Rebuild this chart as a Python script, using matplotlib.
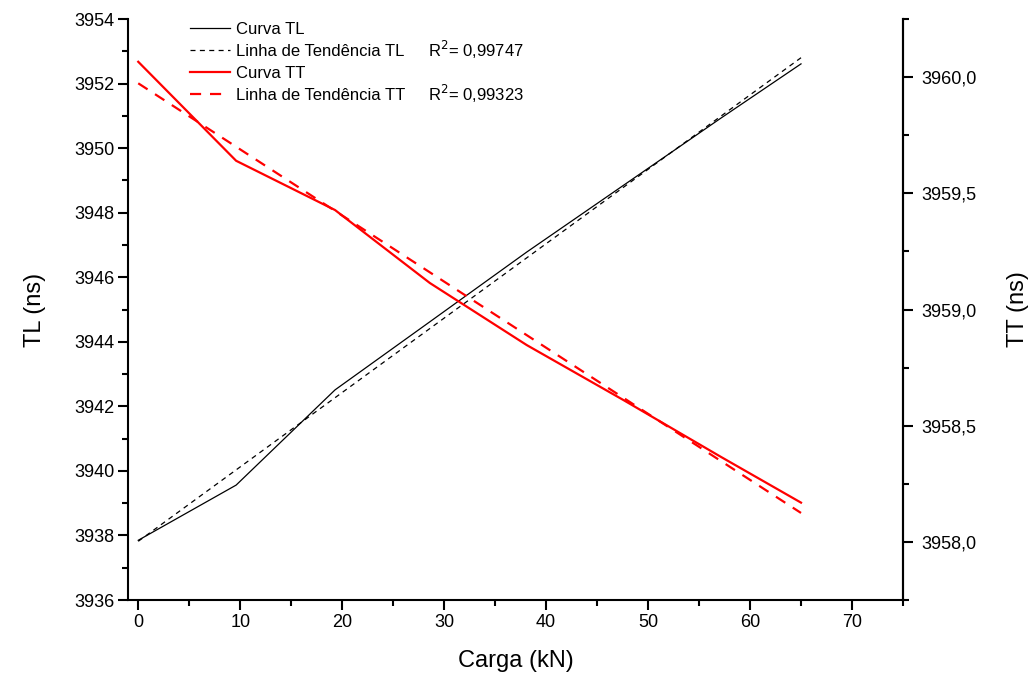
import numpy as np
import matplotlib
matplotlib.use("Agg")
import matplotlib.pyplot as plt
from matplotlib.ticker import MultipleLocator, FuncFormatter
from matplotlib.lines import Line2D

plt.rcParams['font.family'] = ['Liberation Sans', 'DejaVu Sans']

# carga aplicada (kN) e tempos de percurso (ns)
carga = [0, 9.6, 19.3, 28.6, 38.1, 47.6, 57.1, 65.0]
tl = [3937.85, 3939.56, 3942.51, 3944.62, 3946.78, 3948.85, 3950.92, 3952.61]
tt = [3960.066, 3959.64, 3959.428, 3959.114, 3958.847, 3958.61, 3958.367, 3958.169]
r2_tl = "0,99747"
r2_tt = "0,99323"

# linhas de tendencia (ajuste linear)
x_fit = np.array([carga[0], carga[-1]])
tl_fit = np.polyval(np.polyfit(carga, tl, 1), x_fit)
tt_fit = np.polyval(np.polyfit(carga, tt, 1), x_fit)

fig = plt.figure(figsize=(10.36, 6.84), dpi=100)
ax = fig.add_axes([0.1236, 0.1228, 0.748, 0.8494])
ax2 = ax.twinx()

ax.plot(carga, tl, color='black', lw=0.9)
ax.plot(x_fit, tl_fit, color='black', lw=0.9, dashes=(4, 3.5))
ax2.plot(carga, tt, color='red', lw=1.6)
ax2.plot(x_fit, tt_fit, color='red', lw=1.6, dashes=(5, 4))

ax.set_xlim(-1, 75)
ax.set_ylim(3936, 3954)
ax2.set_ylim(3957.75, 3960.25)

ax.xaxis.set_minor_locator(MultipleLocator(5))
ax.set_xticks(range(0, 71, 10))
ax.yaxis.set_major_locator(MultipleLocator(2))
ax.yaxis.set_minor_locator(MultipleLocator(1))
ax2.yaxis.set_major_locator(MultipleLocator(0.5))
ax2.yaxis.set_minor_locator(MultipleLocator(0.25))
ax2.yaxis.set_major_formatter(FuncFormatter(lambda v, p: ("%.1f" % v).replace('.', ',')))

for a in (ax, ax2):
    a.spines['top'].set_visible(False)
    for s in a.spines.values():
        s.set_linewidth(1.5)
    a.tick_params(which='major', direction='out', length=7, width=1.5, labelsize=13, pad=3)
    a.tick_params(which='minor', direction='out', length=4, width=1.5)
ax2.spines['left'].set_visible(False)
ax2.spines['bottom'].set_visible(False)
ax2.tick_params(which='major', pad=6)

ax.set_xlabel("Carga (kN)", fontsize=17, labelpad=14)
ax.set_ylabel("TL (ns)", fontsize=17, labelpad=20)
ax2.set_ylabel("TT (ns)", fontsize=17, labelpad=22)

handles = [Line2D([], [], color='black', lw=0.9),
           Line2D([], [], color='black', lw=0.9, dashes=(4, 3.5)),
           Line2D([], [], color='red', lw=1.6),
           Line2D([], [], color='red', lw=1.6, dashes=(5, 4))]
labels = ["Curva TL", "Linha de Tendência TL", "Curva TT", "Linha de Tendência TT"]
ax2.legend(handles, labels, loc='upper left', bbox_to_anchor=(0.08, 0.995),
           frameon=False, fontsize=12, handlelength=2.4, handletextpad=0.35,
           labelspacing=0.42, borderpad=0, borderaxespad=0)

ax2.text(0.387, 0.946, "R$^2$= " + r2_tl, transform=ax.transAxes, fontsize=12, va='center')
ax2.text(0.387, 0.871, "R$^2$= " + r2_tt, transform=ax.transAxes, fontsize=12, va='center')

fig.savefig("out.png", dpi=100)
